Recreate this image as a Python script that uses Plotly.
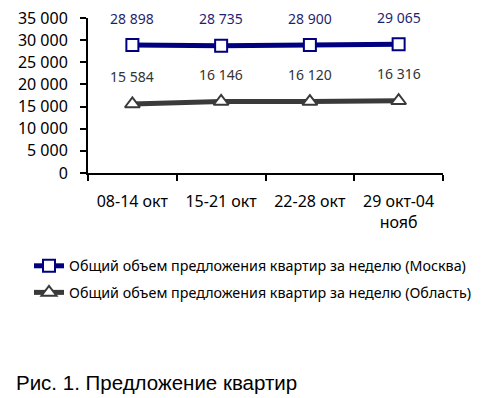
import plotly.graph_objects as go

categories = ["08-14 окт", "15-21 окт", "22-28 окт", "29 окт-04<br>нояб"]
moscow = [28898, 28735, 28900, 29065]
oblast = [15584, 16146, 16120, 16316]
name_moscow = "Общий объем предложения квартир за неделю (Москва)"
name_oblast = "Общий объем предложения квартир за неделю (Область)"
y_ticks = [0, 5000, 10000, 15000, 20000, 25000, 30000, 35000]
caption = "Рис. 1. Предложение квартир"

def fmt(v):
    return f"{v:,}".replace(",", " ")

NAVY = "#000080"
GRAY = "#3a3a3a"

fig = go.Figure()
fig.add_trace(go.Scatter(
    x=categories, y=moscow, name=name_moscow, mode="lines+markers", legendgroup="m",
    line=dict(color=NAVY, width=5),
    marker=dict(symbol="square", size=12, color="white", line=dict(color=NAVY, width=2)),
))
fig.add_trace(go.Scatter(
    x=categories, y=oblast, name=name_oblast, mode="lines+markers", legendgroup="o",
    line=dict(color=GRAY, width=5),
    marker=dict(symbol="triangle-up", size=13, color="white", line=dict(color=GRAY, width=2)),
))

for xs, ys, col in [(categories, moscow, "#1f1f70"), (categories, oblast, "#333333")]:
    for xv, yv in zip(xs, ys):
        fig.add_annotation(x=xv, y=yv, text=fmt(yv), showarrow=False, yshift=27,
                           font=dict(family="Noto Sans", size=14, color=col))

fig.add_annotation(xref="paper", yref="paper", x=(14 - 88) / 355, y=(173 - 382) / 155,
                   xanchor="left", yanchor="middle", text=caption, showarrow=False,
                   font=dict(family="Liberation Sans", size=20.5, color="black"))

fig.update_layout(
    width=475, height=390,
    margin=dict(l=80, r=40, t=10, b=225, autoexpand=False),
    paper_bgcolor="white", plot_bgcolor="white",
    separators=", ",
    showlegend=True,
    legend=dict(x=(29 - 88) / 355, y=(173 - 250) / 155,
                xanchor="left", yanchor="top", font=dict(family="Noto Sans", size=14.3, color="black"),
                tracegroupgap=5, itemwidth=30, bgcolor="rgba(0,0,0,0)"),
    xaxis=dict(type="category", range=[-0.5, 3.5], showline=True, linecolor="black", linewidth=2,
               ticks="outside", ticklen=6, tickwidth=2, tickcolor="black", tickson="boundaries",
               showgrid=False, ticklabelstandoff=13, ticklabeloverflow="allow",
               tickfont=dict(family="Noto Sans", size=16, color="black")),
    yaxis=dict(range=[0, 35000], tickvals=y_ticks, tickformat=",d", showline=True, linecolor="black",
               linewidth=2, ticks="outside", ticklen=6, tickwidth=2, tickcolor="black",
               showgrid=False, zeroline=False, ticklabelstandoff=9, ticklabeloverflow="allow",
               tickfont=dict(family="Noto Sans", size=16, color="black")),
)

fig.write_html("out.html")
